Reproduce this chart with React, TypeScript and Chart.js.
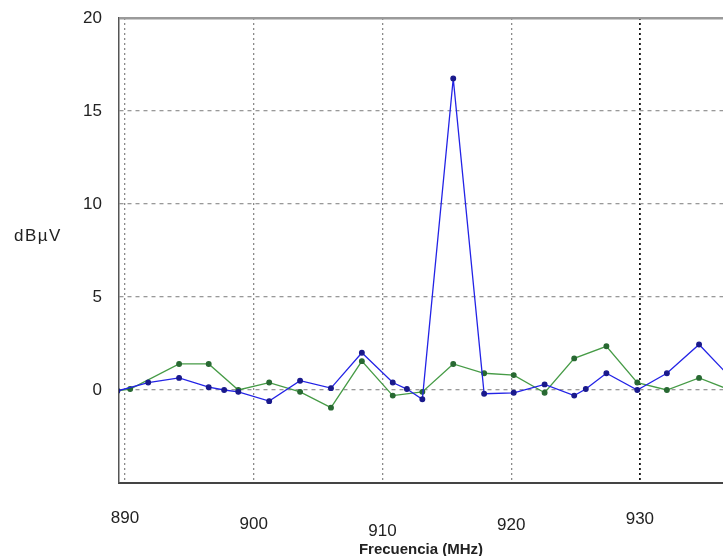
import React, { useEffect, useRef } from "react";
import { Chart, registerables } from "chart.js";

Chart.register(...registerables);

const xTickValues = [890, 900, 910, 920, 930];
const yTickValues = [0, 5, 10, 15, 20];

const blueFreq = [889.4, 891.8, 894.2, 896.5, 897.7, 898.8, 901.2, 903.6, 906.0, 908.4, 910.8, 911.9, 913.1, 915.5, 917.9, 920.2, 922.6, 924.9, 925.8, 927.4, 929.8, 932.1, 934.6, 937.0];
const blueVal = [-0.05, 0.4, 0.65, 0.15, 0.0, -0.1, -0.6, 0.5, 0.1, 2.0, 0.4, 0.05, -0.5, 16.75, -0.2, -0.15, 0.3, -0.3, 0.05, 0.9, 0.0, 0.9, 2.45, 0.7];

const greenFreq = [889.4, 890.4, 894.2, 896.5, 898.8, 901.2, 903.6, 906.0, 908.4, 910.8, 913.1, 915.5, 917.9, 920.2, 922.6, 924.9, 927.4, 929.8, 932.1, 934.6, 937.0];
const greenVal = [-0.05, 0.05, 1.4, 1.4, 0.0, 0.4, -0.1, -0.95, 1.55, -0.3, -0.1, 1.4, 0.9, 0.8, -0.15, 1.7, 2.35, 0.4, 0.0, 0.65, 0.0];

// label line heights give the staggered look of the scanned original
const xLabelLineHeight: Record<number, string> = { 890: "18px", 900: "30px", 910: "44px", 920: "32px", 930: "20px" };

const FONT = "'Liberation Sans', Arial, sans-serif";

export default function App() {
  const canvasRef = useRef<HTMLCanvasElement | null>(null);

  useEffect(() => {
    if (!canvasRef.current) return;
    const chart = new Chart(canvasRef.current, {
      type: "line",
      data: {
        datasets: [
          {
            label: "blue",
            data: blueFreq.map((f, i) => ({ x: f, y: blueVal[i] })),
            borderColor: "rgb(35,35,230)",
            backgroundColor: "rgb(25,25,140)",
            pointBackgroundColor: "rgb(25,25,140)",
            pointBorderColor: "rgb(25,25,140)",
            borderWidth: 1.3,
            pointRadius: 2.3,
            tension: 0,
          },
          {
            label: "green",
            data: greenFreq.map((f, i) => ({ x: f, y: greenVal[i] })),
            borderColor: "rgb(70,155,70)",
            backgroundColor: "rgb(40,105,50)",
            pointBackgroundColor: "rgb(40,105,50)",
            pointBorderColor: "rgb(40,105,50)",
            borderWidth: 1.3,
            pointRadius: 2.3,
            tension: 0,
          },
        ],
      },
      options: {
        animation: false,
        responsive: true,
        maintainAspectRatio: false,
        layout: { autoPadding: false, padding: { top: 18, left: 0, right: 0, bottom: 0 } },
        plugins: {
          legend: { display: false },
          tooltip: { enabled: false },
        },
        scales: {
          x: {
            type: "linear",
            min: 889.53,
            max: 936.46,
            afterBuildTicks: (scale: any) => {
              scale.ticks = xTickValues.map((v) => ({ value: v }));
            },
            afterFit: (scale: any) => {
              scale.height = 73;
            },
            grid: {
              color: (ctx: any) => (ctx.tick && ctx.tick.value === 930 ? "#111" : "#8a8a8a"),
              lineWidth: (ctx: any) => (ctx.tick && ctx.tick.value === 930 ? 1.8 : 1.3),
              drawTicks: false,
            },
            border: {
              display: true,
              color: "#444",
              width: 2,
              dash: [2, 3],
            },
            ticks: {
              padding: 26,
              color: "#222",
              font: (ctx: any) => ({
                family: FONT,
                size: 17,
                lineHeight: (ctx.tick && xLabelLineHeight[ctx.tick.value]) || "30px",
              }),
              callback: (v: any) => String(v),
            },
            title: {
              display: true,
              text: "Frecuencia (MHz)",
              color: "#222",
              font: { family: FONT, size: 15, weight: "bold" },
              padding: { top: 0, bottom: -3 },
            },
          },
          y: {
            type: "linear",
            min: -5,
            max: 20,
            afterBuildTicks: (scale: any) => {
              scale.ticks = yTickValues.map((v) => ({ value: v }));
            },
            afterFit: (scale: any) => {
              scale.width = 119;
              scale.paddingTop = 0;
              scale.paddingBottom = 0;
            },
            grid: {
              color: (ctx: any) => (ctx.tick && ctx.tick.value === 20 ? "#9a9a9a" : "#999"),
              lineWidth: (ctx: any) => (ctx.tick && ctx.tick.value === 20 ? 2.5 : 1.3),
              drawTicks: false,
            },
            border: {
              display: true,
              color: "#555",
              width: 1.5,
              dash: (ctx: any) => (ctx.tick && ctx.tick.value === 20 ? [] : [4, 4]),
            },
            ticks: {
              padding: 17,
              color: "#222",
              font: { family: FONT, size: 17, lineHeight: "4px" },
            },
          },
        },
      } as any,
    });
    return () => chart.destroy();
  }, []);

  return (
    <div style={{ position: "absolute", left: 0, top: 0, width: 723, height: 556, background: "#fff" }}>
      <canvas ref={canvasRef} />
      <span
        style={{
          position: "absolute",
          left: 14,
          top: 226,
          fontFamily: FONT,
          fontSize: 17,
          letterSpacing: 1.5,
          color: "#222",
        }}
      >
        dBµV
      </span>
    </div>
  );
}
